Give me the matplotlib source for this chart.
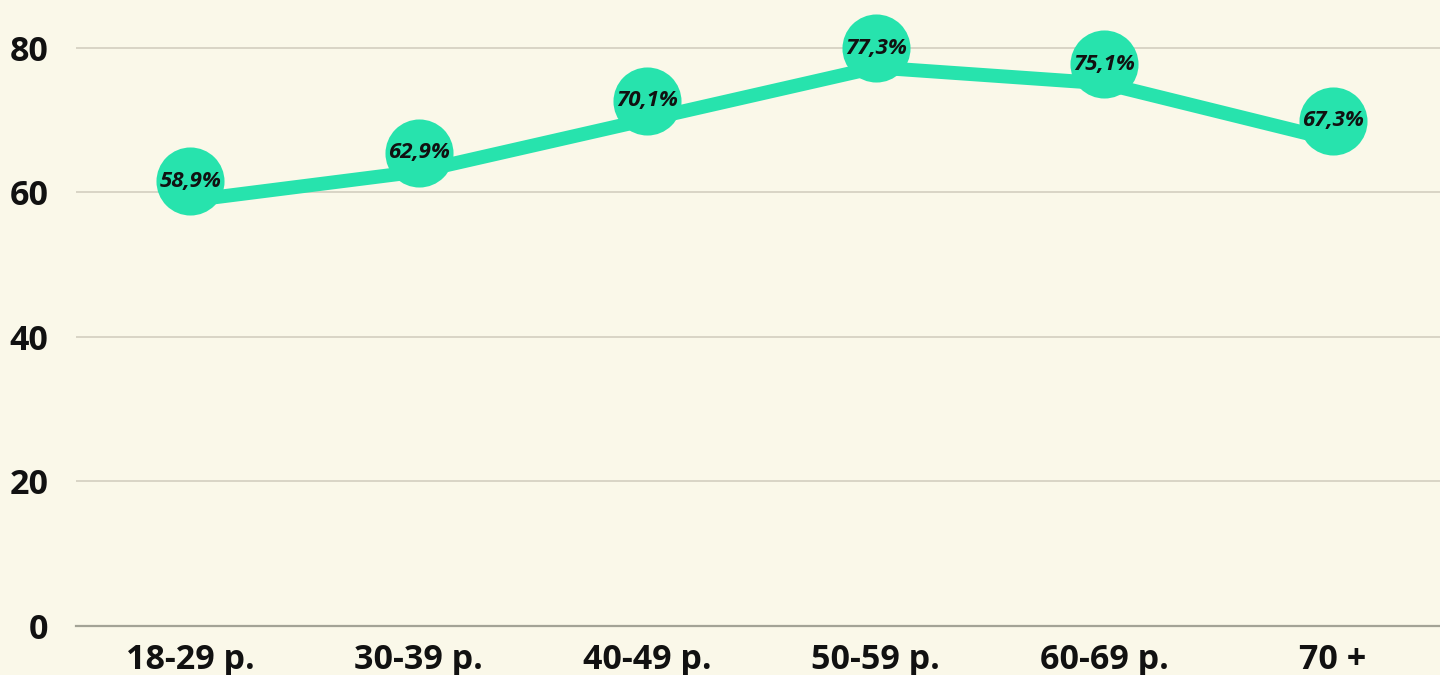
import matplotlib
matplotlib.use("Agg")
import matplotlib.pyplot as plt
from matplotlib.transforms import ScaledTranslation

# --- data ---
categories = ["18-29 р.", "30-39 р.", "40-49 р.", "50-59 р.", "60-69 р.", "70 +"]
values = [58.9, 62.9, 70.1, 77.3, 75.1, 67.3]
labels = ["58,9%", "62,9%", "70,1%", "77,3%", "75,1%", "67,3%"]
yticks = [0, 20, 40, 60, 80]

bg = "#faf8e9"
green = "#27e3ad"

fig = plt.figure(figsize=(14.4, 6.75), dpi=100)
fig.patch.set_facecolor(bg)
ax = fig.add_axes([0.0528, 0.0726, 0.9472, 0.9274])
ax.set_facecolor(bg)

x = list(range(len(categories)))

# line through the values
ax.plot(x, values, color=green, linewidth=10, solid_capstyle="butt", zorder=3)

# circles sit a bit above the line points
shift = ax.transData + ScaledTranslation(0, 0.19, fig.dpi_scale_trans)
ax.plot(x, values, linestyle="none", marker="o", markersize=49,
        markerfacecolor=green, markeredgewidth=0, transform=shift, zorder=4)
for xi, v, lab in zip(x, values, labels):
    ax.text(xi, v, lab, transform=shift, ha="center", va="center",
            fontsize=16, fontweight="bold", fontstyle="italic",
            family="Open Sans", color="#111111", zorder=5)

ax.set_xlim(-0.5, 5.47)
ax.set_ylim(0, 86.64)
ax.set_yticks(yticks)
ax.set_xticks(x)
ax.set_xticklabels(categories)

for lab in ax.get_xticklabels() + ax.get_yticklabels():
    lab.set_family("Open Sans")
    lab.set_fontweight("bold")
    lab.set_fontsize(24.5)
    lab.set_color("#111111")

ax.tick_params(axis="both", length=0)
ax.tick_params(axis="x", pad=12)
ax.tick_params(axis="y", pad=20)

ax.grid(axis="y", color="#d3cfbf", linewidth=1.2, zorder=0)
ax.set_axisbelow(True)
for side in ["top", "right", "left"]:
    ax.spines[side].set_visible(False)
ax.spines["bottom"].set_color("#a3a396")
ax.spines["bottom"].set_linewidth(1.6)

fig.savefig("out.png", dpi=100, facecolor=bg)
